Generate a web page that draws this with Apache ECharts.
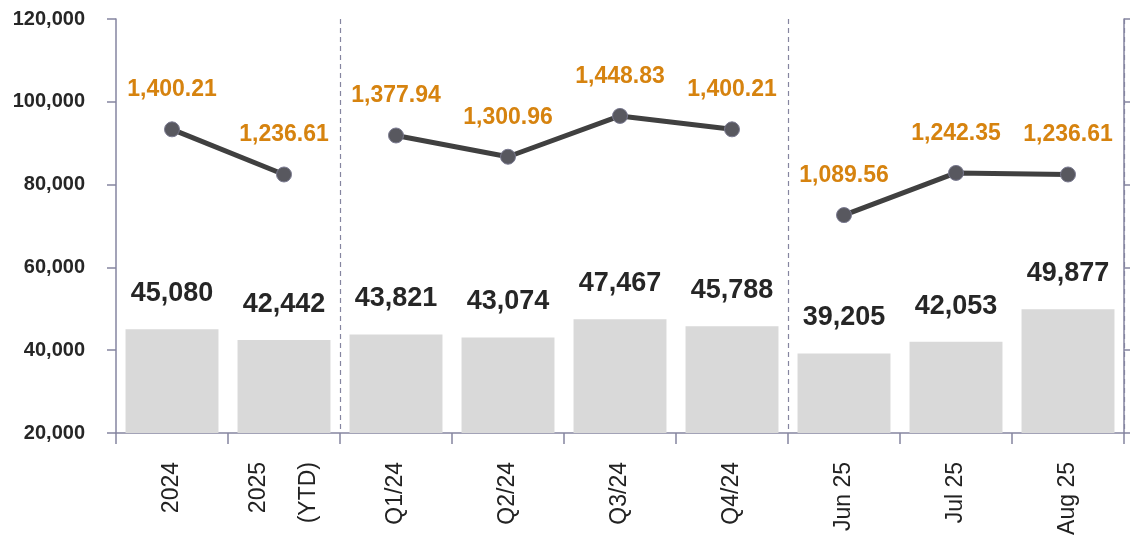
<!DOCTYPE html>
<html lang="en">
<head>
    <meta charset="UTF-8">
    <title>Chart</title>
    <script src="https://cdn.jsdelivr.net/npm/echarts@6/dist/echarts.min.js"></script>
    <style>
        html, body { margin: 0; padding: 0; background: #fff; }
    </style>
</head>
<body>
    <div id="main" style="width: 1130px;height:535px;"></div>
    <script type="text/javascript">
        // data
        var categories = ['2024', '2025\n(YTD)', 'Q1/24', 'Q2/24', 'Q3/24', 'Q4/24', 'Jun 25', 'Jul 25', 'Aug 25'];
        var barValues = [45080, 42442, 43821, 43074, 47467, 45788, 39205, 42053, 49877];
        var lineValues = [1400.21, 1236.61, 1377.94, 1300.96, 1448.83, 1400.21, 1089.56, 1242.35, 1236.61];
        // the line is broken into three groups
        var lineGroups = [[0, 1], [2, 3, 4, 5], [6, 7, 8]];
        var separatorIndex = [2, 6];

        var fontFam = 'Arial, "Liberation Sans", sans-serif';
        var axisColor = '#8585a0';

        var groupSeries = lineGroups.map(function (g) {
            var d = categories.map(function () { return '-'; });
            g.forEach(function (i) { d[i] = lineValues[i]; });
            return {
                type: 'line',
                yAxisIndex: 1,
                data: d,
                symbol: 'circle',
                symbolSize: 15,
                lineStyle: { color: '#404040', width: 5 },
                itemStyle: { color: '#58585f', borderColor: '#7a7a90', borderWidth: 1 },
                label: {
                    show: true,
                    position: 'top',
                    distance: 20,
                    color: '#d6830f',
                    fontWeight: 'bold',
                    fontSize: 23,
                    fontFamily: fontFam,
                    formatter: function (p) {
                        return p.value.toLocaleString('en-US', { minimumFractionDigits: 2, maximumFractionDigits: 2 });
                    }
                },
                z: 5
            };
        });

        var myChart = echarts.init(document.getElementById('main'));
        var option = {
            animation: false,
            grid: { left: 116, right: 6, top: 19, bottom: 102, outerBoundsMode: 'none' },
            xAxis: {
                type: 'category',
                data: categories,
                boundaryGap: true,
                axisLine: { lineStyle: { color: axisColor, width: 1.5 } },
                axisTick: { show: true, length: 11, lineStyle: { color: axisColor, width: 1.5 } },
                axisLabel: {
                    rotate: 90,
                    interval: 0,
                    margin: 29,
                    fontSize: 23,
                    lineHeight: 50,
                    color: '#222',
                    fontFamily: fontFam
                },
                splitLine: {
                    show: true,
                    interval: function (index) { return separatorIndex.indexOf(index) >= 0; },
                    lineStyle: { color: axisColor, type: [5, 4], width: 1.2 }
                }
            },
            yAxis: [
                {
                    type: 'value',
                    min: 20000,
                    max: 120000,
                    interval: 20000,
                    axisLine: { show: true, lineStyle: { color: axisColor, width: 1.5 } },
                    axisTick: { show: true, length: 9, lineStyle: { color: axisColor, width: 1.5 } },
                    splitLine: { show: false },
                    axisLabel: {
                        margin: 31,
                        fontSize: 20,
                        fontWeight: 'bold',
                        color: '#262626',
                        fontFamily: fontFam,
                        formatter: function (v) { return v.toLocaleString('en-US'); }
                    }
                },
                {
                    type: 'value',
                    min: 300,
                    max: 1800,
                    interval: 300,
                    position: 'right',
                    axisLine: { show: true, lineStyle: { color: axisColor, width: 1.5 } },
                    axisTick: { show: true, length: 7, lineStyle: { color: axisColor, width: 1.5 } },
                    splitLine: { show: false },
                    axisLabel: { show: false }
                }
            ],
            series: [
                {
                    type: 'bar',
                    data: barValues,
                    barCategoryGap: '17%',
                    itemStyle: { color: '#d9d9d9' },
                    label: {
                        show: true,
                        position: 'top',
                        distance: 22,
                        color: '#262626',
                        fontWeight: 'bold',
                        fontSize: 27,
                        fontFamily: fontFam,
                        formatter: function (p) { return p.value.toLocaleString('en-US'); }
                    }
                }
            ].concat(groupSeries)
        };
        myChart.setOption(option);
    </script>
</body>
</html>
